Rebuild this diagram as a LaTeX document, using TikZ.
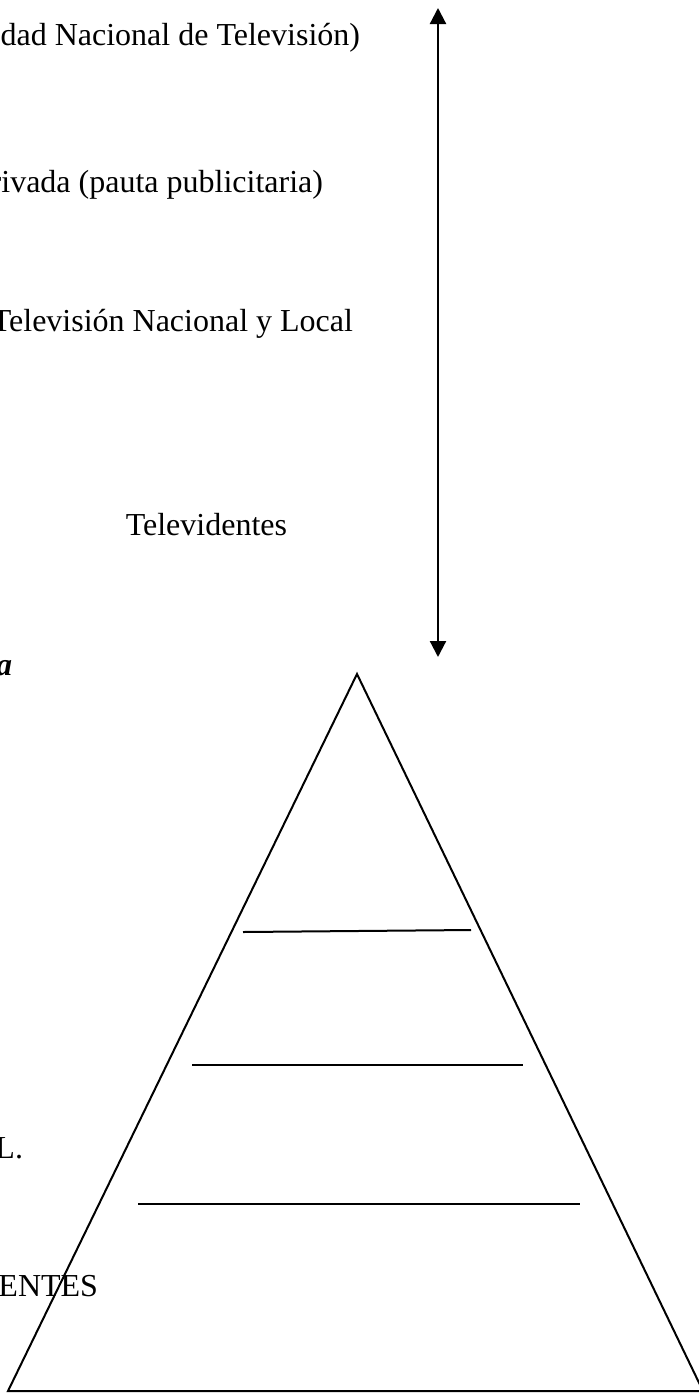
\documentclass[tikz,border=0pt]{standalone}
\usepackage{fontspec}
\setmainfont{Liberation Serif}
\usetikzlibrary{arrows.meta}
\begin{document}
\begin{tikzpicture}[x=1pt,y=-1pt,
  txt/.style={inner sep=0pt,outer sep=0pt,anchor=base east,font=\fontsize{32}{38}\selectfont},
  edge/.style={line width=2pt,line join=miter},
  dbl/.style={line width=2.2pt,{Triangle[width=16pt,length=16pt]}-{Triangle[width=16pt,length=16pt]}}]
\useasboundingbox (0,0) rectangle (699,1393);
\clip (0,0) rectangle (699,1393);
% texts
\node[txt] (t1) at (360,45) {dad Nacional de Televisión)};
\node[txt] (t2) at (323,192) {rivada (pauta publicitaria)};
\node[txt] (t3) at (353,331) {Televisión Nacional y Local};
\node[txt] (t4) at (287,535) {Televidentes};
\node[txt,font=\fontsize{32}{38}\selectfont\bfseries\itshape] (t5) at (12,675) {a};
\node[txt] (t6) at (23,1158) {L.};
\node[txt] (t7) at (98,1296) {ENTES};
% double arrow
\coordinate (atop) at (438,8);
\coordinate (abot) at (438,657);
\draw[dbl] (atop) -- (abot);
% pyramid
\coordinate (apex) at (357,674);
\coordinate (bl) at (8,1391);
\coordinate (br) at (703,1391);
\draw[edge] (apex) -- (bl) -- (br) -- cycle;
% level lines
\coordinate (l1a) at (243,932);
\coordinate (l1b) at (471,930);
\coordinate (l2a) at (192,1065);
\coordinate (l2b) at (523,1065);
\coordinate (l3a) at (138,1204);
\coordinate (l3b) at (580,1204);
\draw[edge] (l1a) -- (l1b);
\draw[edge] (l2a) -- (l2b);
\draw[edge] (l3a) -- (l3b);
\end{tikzpicture}
\end{document}
